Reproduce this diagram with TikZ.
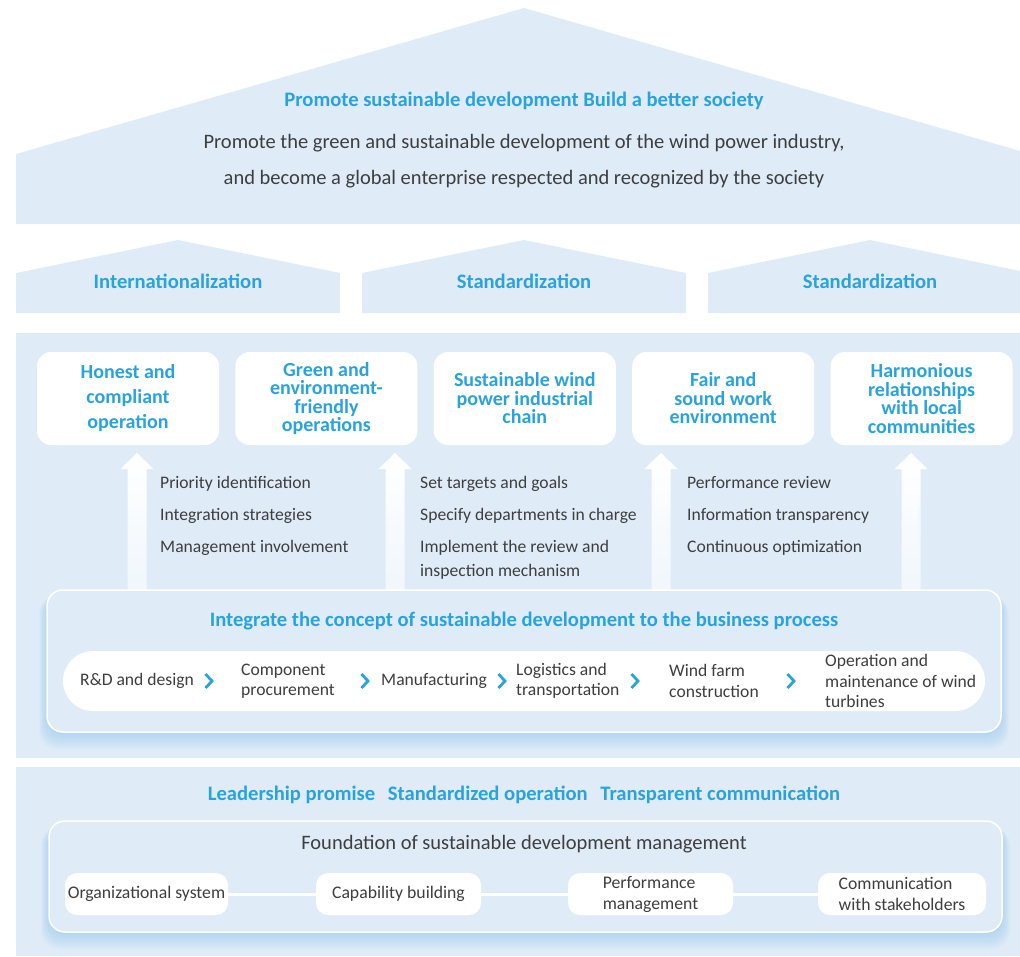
\documentclass[tikz,border=0pt]{standalone}
\usepackage{fontspec}
\setmainfont{Carlito}
\usetikzlibrary{positioning}

\definecolor{skyfill}{RGB}{223,236,248}
\definecolor{titleblue}{RGB}{41,163,221}
\definecolor{textgray}{RGB}{62,62,62}
\definecolor{glowblue}{RGB}{140,195,235}

\begin{document}
\begin{tikzpicture}[x=1pt,y=-1pt,node distance=16pt,
  goal/.style={fill=white, rounded corners=14pt, minimum width=182pt,
    minimum height=93pt, align=center, inner sep=0pt,
    text=titleblue, font=\fontsize{20}{18.5}\selectfont\bfseries},
  heading/.style={text=titleblue, inner sep=0pt, font=\fontsize{20.6}{22}\selectfont\bfseries},
  plain/.style={text=textgray, inner sep=0pt, font=\fontsize{20.5}{22}\selectfont},
  item/.style={text=textgray, anchor=base west, inner sep=0pt, font=\fontsize{17.6}{20}\selectfont},
  stage/.style={text=textgray, anchor=west, align=left, inner sep=0pt, font=\fontsize{17.6}{20.5}\selectfont},
  frame/.style={draw=white, line width=1.5pt, fill=skyfill, rounded corners=16pt},
  base/.style={fill=white, rounded corners=12pt, minimum height=42pt, align=left,
    inner sep=0pt, text=textgray, font=\fontsize{17.7}{21}\selectfont},
  chev/.style={draw=titleblue, line width=2.8pt, line join=miter},
]
\useasboundingbox (0,0) rectangle (1020,956);

% the roof and the three pillars
\fill[skyfill] (16,224) -- (16,154) -- (524,8) -- (1020,151) -- (1020,224) -- cycle;
\fill[skyfill] (16,313) -- (16,273) -- (178,240) -- (340,273) -- (340,313) -- cycle;
\fill[skyfill] (362,313) -- (362,273) -- (524,240) -- (686,273) -- (686,313) -- cycle;
\fill[skyfill] (708,313) -- (708,273) -- (870,240) -- (1020,271) -- (1020,313) -- cycle;

\node[heading] (motto) at (524,101) {Promote sustainable development Build a better society};
\node[plain] (vision1) at (524,143) {Promote the green and sustainable development of the wind power industry,};
\node[plain] (vision2) at (524,179) {and become a global enterprise respected and recognized by the society};

\node[heading] (pillar1) at (178,281) {Internationalization};
\node[heading] (pillar2) at (524,281) {Standardization};
\node[heading] (pillar3) at (870,281) {Standardization};

% the middle panel with the five goals
\fill[skyfill] (16,333) rectangle (1020,758);

\node[goal, font=\fontsize{20}{25}\selectfont\bfseries] (g1) at (128,398.5)
  {Honest and\\compliant\\operation};
\node[goal, right=of g1] (g2) {Green and\\environment-\\friendly\\operations};
\node[goal, right=of g2] (g3) {Sustainable wind\\power industrial\\chain};
\node[goal, right=of g3] (g4) {Fair and\\sound work\\environment};
\node[goal, right=of g4] (g5) {Harmonious\\relationships\\with local\\communities};

% glow under the process frame
\foreach \g in {2,4,...,16}
  \fill[glowblue, opacity=0.07, rounded corners=18pt]
    (47-\g/2,596) rectangle (1001+\g/2,733+\g);

% the rising arrows
\foreach \ax in {137,395,661,911}
  \shade[top color=white, bottom color=white!55!skyfill]
    (\ax-9.5,590) -- (\ax-9.5,469) -- (\ax-16.5,469) -- (\ax,453)
    -- (\ax+16.5,469) -- (\ax+9.5,469) -- (\ax+9.5,590) -- cycle;

\node[item] (a1) at (160,488) {Priority identification};
\node[item] (a2) at (160,520) {Integration strategies};
\node[item] (a3) at (160,552) {Management involvement};
\node[item] (b1) at (420,488) {Set targets and goals};
\node[item] (b2) at (420,520) {Specify departments in charge};
\node[item] (b3) at (420,552) {Implement the review and};
\node[item] (b4) at (420,576) {inspection mechanism};
\node[item] (c1) at (687,488) {Performance review};
\node[item] (c2) at (687,520) {Information transparency};
\node[item] (c3) at (687,552) {Continuous optimization};

% the business process
\node[frame, minimum width=954pt, minimum height=142pt] (proc) at (524,661) {};
\node[heading] (integrate) at (524,621)
  {Integrate the concept of sustainable development to the business process};
\node[fill=white, rounded corners=30pt, minimum width=922pt, minimum height=60pt] (flow) at (524,681) {};

\node[stage] (s1) at (80,681) {R\&D and design};
\node[stage] (s2) at (241,681) {Component\\procurement};
\node[stage] (s3) at (381,681) {Manufacturing};
\node[stage] (s4) at (516,681) {Logistics and\\transportation};
\node[stage] (s5) at (669,681) {Wind farm\\construction};
\node[stage] (s6) at (825,681) {Operation and\\maintenance of wind\\turbines};

\foreach \cx in {209,365,502,635,791}
  \draw[chev] (\cx-3.5,674) -- (\cx+3,681) -- (\cx-3.5,688);

% the foundation
\fill[skyfill] (16,767) rectangle (1020,956);
\node[heading] (pledge) at (524,795)
  {Leadership promise\hspace{8pt} Standardized operation\hspace{8pt} Transparent communication};

\foreach \g in {2,4,...,16}
  \fill[glowblue, opacity=0.07, rounded corners=18pt]
    (49-\g/2,827) rectangle (1002+\g/2,933+\g);
\node[frame, minimum width=953pt, minimum height=111pt] (found) at (525.5,876.5) {};
\node[plain] (foundation) at (524,844) {Foundation of sustainable development management};

\node[base, minimum width=163pt] (f1) at (146.5,894) {Organizational system};
\node[base, minimum width=165pt] (f2) at (398.5,894) {Capability building};
\node[base, minimum width=165pt] (f3) at (650.5,894) {Performance\\management};
\node[base, minimum width=168pt] (f4) at (902,894) {Communication\\with stakeholders};

\draw[white, line width=3pt] (f1) -- (f2) (f2) -- (f3) (f3) -- (f4);

\end{tikzpicture}
\end{document}
